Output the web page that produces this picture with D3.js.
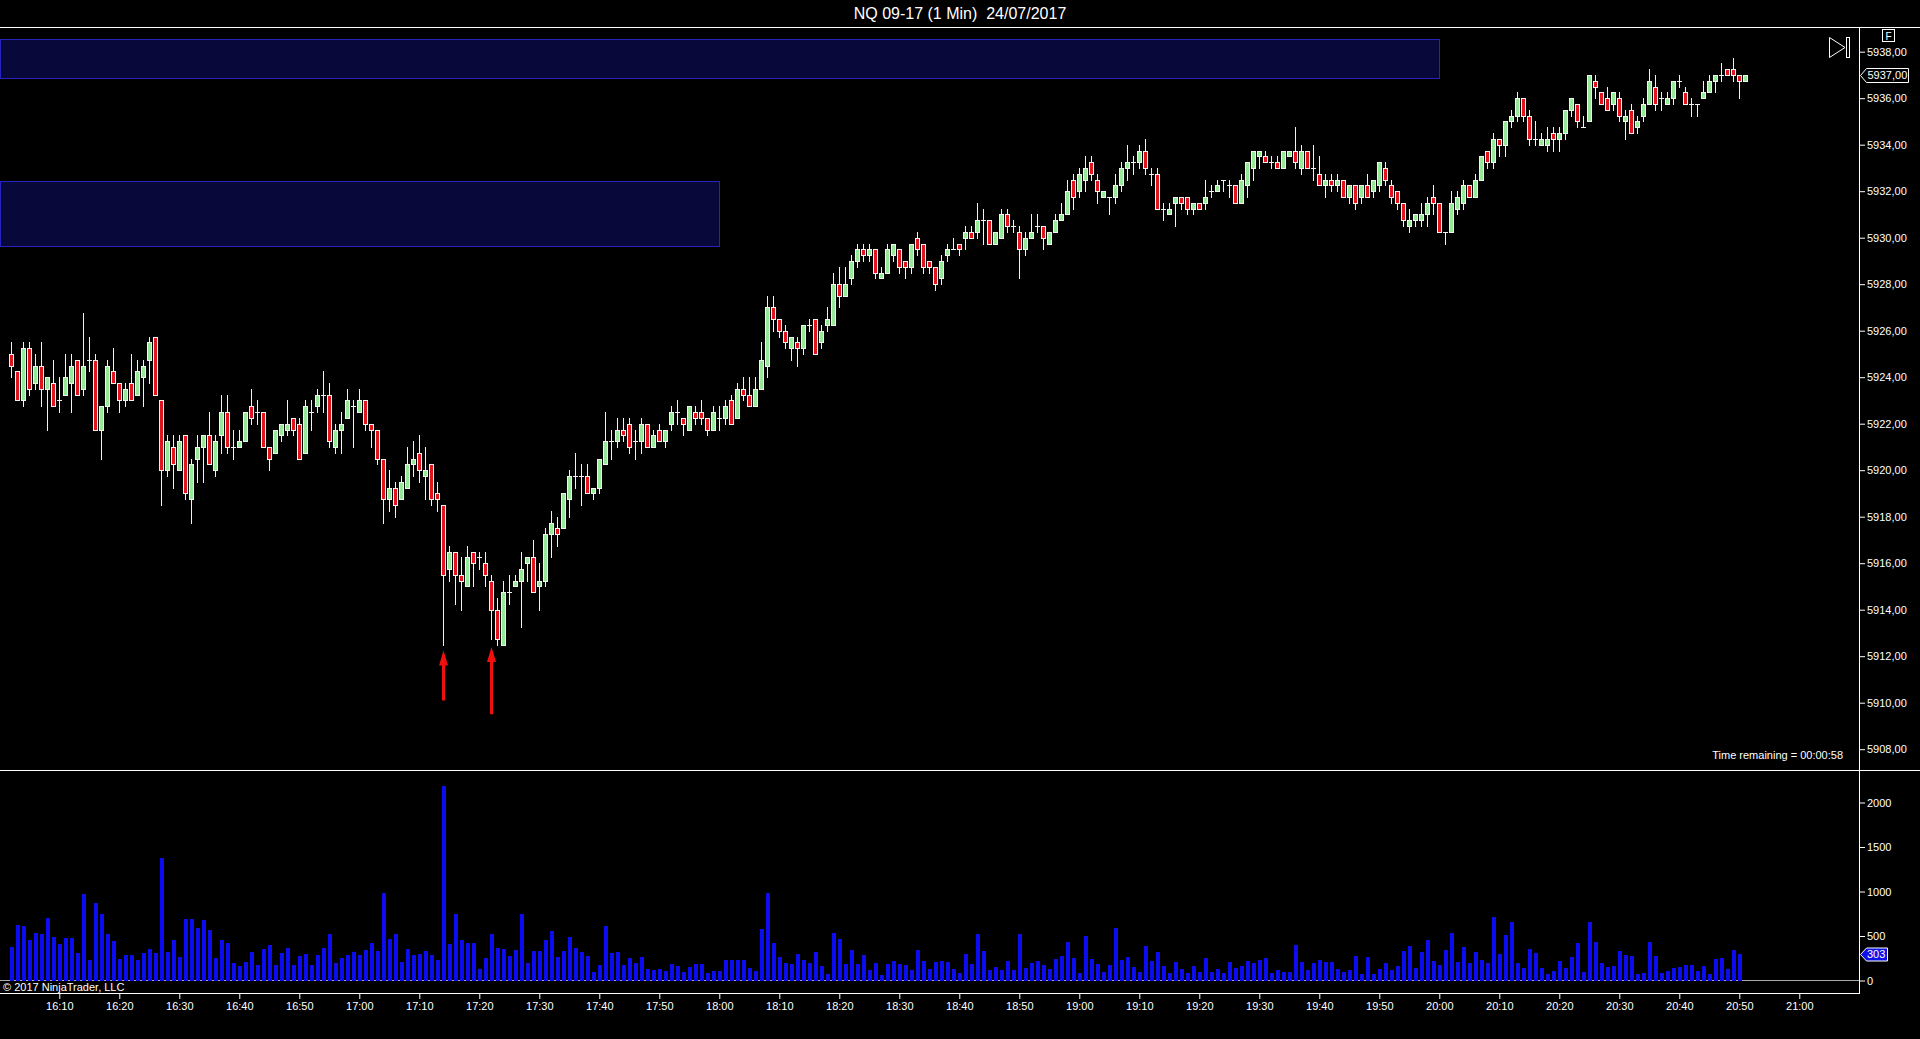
<!DOCTYPE html>
<html>
<head>
<meta charset="utf-8">
<title>NQ 09-17 (1 Min) 24/07/2017</title>
<script src="https://cdn.jsdelivr.net/npm/d3@7"></script>
<style>
  html, body { margin: 0; padding: 0; background: #000; overflow: hidden; }
  svg { display: block; font-family: "Liberation Sans", Arial, sans-serif; }
</style>
</head>
<body>
<div id="chart"></div>
<script>
// 1 minute bars, first bar closes 16:02
var firstBar = "16:02";

var opens = [
  5925.0, 5924.25, 5923.0, 5925.25, 5923.75, 5924.5, 5923.5, 5923.75, 5923.0, 5923.25,
  5923.75, 5924.75, 5923.5, 5924.75, 5924.75, 5921.75, 5922.75, 5924.25, 5923.75, 5923.0,
  5923.75, 5923.25, 5924.0, 5924.75, 5925.75, 5923.0, 5920.0, 5921.0, 5920.0, 5921.5,
  5918.75, 5920.5, 5921.0, 5921.5, 5920.0, 5921.5, 5922.5, 5921.0, 5921.0, 5921.25,
  5922.75, 5922.5, 5922.5, 5921.0, 5920.75, 5921.5, 5921.75, 5922.25, 5922.0, 5920.75,
  5922.5, 5922.75, 5923.25, 5923.25, 5921.0, 5921.75, 5922.25, 5922.75, 5922.5, 5923.0,
  5922.0, 5921.75, 5920.5, 5918.75, 5919.25, 5918.75, 5919.25, 5920.25, 5920.75, 5919.75,
  5920.25, 5919.0, 5918.5, 5915.75, 5916.5, 5915.5, 5915.0, 5916.5, 5916.25, 5916.0,
  5915.25, 5914.0, 5912.5, 5914.75, 5915.0, 5915.25, 5916.0, 5916.25, 5915.0, 5915.25,
  5917.25, 5917.5, 5917.5, 5918.75, 5919.75, 5919.75, 5919.75, 5919.0, 5919.25, 5920.25,
  5921.25, 5921.25, 5921.75, 5922.0, 5921.25, 5921.25, 5922.0, 5921.0, 5921.75, 5921.25,
  5922.0, 5922.5, 5922.25, 5921.75, 5922.5, 5922.5, 5922.25, 5921.75, 5922.25, 5922.25,
  5923.0, 5922.25, 5923.5, 5923.25, 5922.75, 5923.5, 5924.5, 5927.0, 5926.5, 5926.0,
  5925.25, 5925.5, 5925.25, 5926.25, 5926.5, 5925.5, 5926.25, 5926.25, 5928.0, 5927.5,
  5928.25, 5929.0, 5929.5, 5929.25, 5929.5, 5928.25, 5928.5, 5929.25, 5929.5, 5929.0,
  5928.75, 5930.0, 5929.75, 5929.0, 5928.75, 5928.25, 5929.25, 5929.5, 5929.75, 5930.0,
  5930.25, 5930.25, 5930.75, 5930.75, 5929.75, 5930.0, 5931.0, 5930.5, 5930.25, 5929.5,
  5930.0, 5930.5, 5930.5, 5929.75, 5930.25, 5930.75, 5931.0, 5932.5, 5932.0, 5932.5,
  5933.25, 5932.5, 5931.75, 5931.75, 5931.75, 5932.25, 5933.0, 5933.25, 5933.25, 5933.75,
  5932.75, 5932.75, 5931.25, 5931.0, 5931.5, 5931.75, 5931.75, 5931.25, 5931.5, 5931.5,
  5932.0, 5932.0, 5932.5, 5932.25, 5932.25, 5931.5, 5932.25, 5933.0, 5933.5, 5933.5,
  5933.25, 5933.25, 5933.0, 5933.5, 5933.75, 5933.0, 5933.75, 5933.0, 5932.75, 5932.25,
  5932.5, 5932.25, 5932.5, 5931.75, 5932.25, 5931.75, 5932.25, 5932.0, 5932.25, 5933.0,
  5932.25, 5932.0, 5931.5, 5930.5, 5930.75, 5930.75, 5931.0, 5931.75, 5931.5, 5930.25,
  5930.25, 5931.25, 5931.5, 5932.25, 5931.75, 5932.5, 5933.75, 5933.25, 5934.25, 5934.0,
  5935.0, 5935.25, 5936.0, 5935.25, 5934.25, 5934.0, 5934.0, 5934.5, 5934.25, 5934.5,
  5935.5, 5935.75, 5934.75, 5935.0, 5936.75, 5936.25, 5936.0, 5935.75, 5936.0, 5935.0,
  5935.5, 5934.75, 5935.25, 5935.75, 5936.5, 5936.0, 5935.75, 5936.0, 5936.75, 5936.25,
  5935.75, 5935.75, 5936.0, 5936.25, 5936.75, 5937.0, 5937.25, 5937.25, 5937.0, 5936.75
];

var highs = [
  5925.5, 5924.25, 5925.5, 5925.5, 5925.0, 5925.5, 5924.0, 5924.75, 5924.0, 5925.0,
  5925.0, 5924.75, 5926.75, 5925.75, 5925.0, 5922.75, 5924.75, 5925.25, 5923.75, 5923.75,
  5925.0, 5924.75, 5924.75, 5925.75, 5925.75, 5923.0, 5921.5, 5921.5, 5921.5, 5921.5,
  5920.5, 5921.5, 5921.5, 5922.5, 5921.5, 5923.25, 5923.25, 5921.75, 5921.75, 5922.5,
  5923.5, 5923.0, 5922.5, 5921.0, 5921.75, 5922.0, 5923.0, 5922.25, 5922.25, 5923.0,
  5923.0, 5923.5, 5924.25, 5923.75, 5922.0, 5922.5, 5923.5, 5923.0, 5923.5, 5923.0,
  5922.0, 5921.75, 5920.5, 5920.0, 5919.5, 5919.75, 5921.0, 5921.25, 5921.5, 5921.0,
  5920.25, 5919.5, 5918.5, 5916.75, 5916.5, 5916.25, 5916.75, 5916.5, 5916.5, 5916.5,
  5915.5, 5914.5, 5915.25, 5915.5, 5915.5, 5916.5, 5916.25, 5917.0, 5916.0, 5917.5,
  5918.25, 5918.0, 5919.0, 5920.0, 5920.75, 5920.25, 5920.25, 5919.25, 5920.5, 5922.5,
  5921.75, 5922.25, 5922.25, 5922.25, 5921.75, 5922.25, 5922.0, 5921.75, 5922.0, 5921.75,
  5922.75, 5923.0, 5922.25, 5922.75, 5922.75, 5923.0, 5922.25, 5922.75, 5922.75, 5923.0,
  5923.25, 5923.75, 5924.0, 5924.0, 5924.0, 5925.5, 5927.5, 5927.5, 5926.5, 5926.25,
  5925.75, 5925.75, 5926.25, 5926.5, 5926.5, 5926.25, 5927.0, 5928.5, 5928.75, 5928.75,
  5929.25, 5929.75, 5929.75, 5929.75, 5929.5, 5928.75, 5929.75, 5929.75, 5929.5, 5929.0,
  5929.75, 5930.25, 5929.75, 5929.0, 5928.75, 5929.25, 5929.75, 5930.0, 5929.75, 5930.5,
  5930.5, 5931.5, 5931.25, 5930.75, 5930.25, 5931.25, 5931.25, 5930.75, 5930.5, 5930.25,
  5931.0, 5931.0, 5930.5, 5930.25, 5931.0, 5931.5, 5932.5, 5932.75, 5933.0, 5933.5,
  5933.5, 5932.75, 5932.0, 5931.75, 5932.75, 5933.25, 5934.0, 5933.5, 5934.0, 5934.25,
  5933.0, 5933.0, 5931.5, 5931.5, 5931.75, 5931.75, 5931.75, 5931.5, 5931.5, 5932.5,
  5932.25, 5932.5, 5932.5, 5932.5, 5932.25, 5932.75, 5933.25, 5933.75, 5933.75, 5933.75,
  5933.5, 5933.5, 5933.75, 5933.75, 5934.75, 5934.0, 5933.75, 5934.0, 5933.5, 5932.75,
  5932.75, 5932.75, 5932.5, 5932.25, 5932.25, 5932.25, 5932.75, 5932.5, 5933.25, 5933.25,
  5932.5, 5932.0, 5931.5, 5931.25, 5931.0, 5931.5, 5931.75, 5932.25, 5931.5, 5930.25,
  5932.0, 5932.0, 5932.5, 5932.25, 5932.75, 5933.5, 5933.75, 5934.5, 5934.25, 5935.0,
  5935.5, 5936.25, 5936.0, 5935.5, 5935.0, 5934.5, 5934.75, 5934.75, 5934.75, 5935.5,
  5936.0, 5935.75, 5935.25, 5937.0, 5937.0, 5936.25, 5936.5, 5936.25, 5936.25, 5935.5,
  5935.75, 5935.25, 5936.0, 5937.25, 5937.0, 5936.25, 5936.25, 5936.75, 5937.0, 5936.5,
  5936.0, 5935.75, 5936.75, 5937.0, 5937.0, 5937.5, 5937.25, 5937.75, 5937.0, 5937.0
];

var lows = [
  5924.0, 5923.0, 5922.75, 5923.25, 5923.5, 5922.75, 5921.75, 5922.75, 5922.5, 5923.25,
  5922.5, 5923.25, 5923.25, 5924.25, 5921.75, 5920.5, 5922.5, 5923.75, 5922.5, 5922.75,
  5923.0, 5923.25, 5922.75, 5923.75, 5923.25, 5918.5, 5919.75, 5919.25, 5920.0, 5918.75,
  5917.75, 5919.5, 5919.5, 5920.25, 5919.75, 5920.75, 5920.75, 5920.5, 5921.0, 5921.25,
  5922.0, 5922.0, 5921.0, 5920.0, 5920.75, 5921.25, 5921.5, 5921.5, 5920.5, 5920.75,
  5921.75, 5922.5, 5922.5, 5921.0, 5920.75, 5920.75, 5922.25, 5921.0, 5922.5, 5921.75,
  5921.0, 5920.25, 5917.75, 5918.25, 5918.0, 5918.75, 5919.25, 5919.75, 5919.5, 5918.75,
  5918.5, 5918.25, 5912.5, 5915.25, 5914.25, 5914.0, 5915.0, 5915.0, 5915.75, 5915.0,
  5912.75, 5912.5, 5912.5, 5914.25, 5915.0, 5913.25, 5915.25, 5914.75, 5914.0, 5915.0,
  5916.25, 5916.75, 5917.5, 5918.0, 5919.25, 5918.5, 5919.0, 5918.75, 5919.0, 5920.25,
  5920.5, 5921.0, 5921.25, 5920.75, 5920.5, 5920.75, 5921.0, 5921.0, 5921.25, 5921.0,
  5921.75, 5922.0, 5921.5, 5921.75, 5922.0, 5922.0, 5921.5, 5921.75, 5921.75, 5922.0,
  5922.0, 5922.25, 5923.0, 5922.75, 5922.75, 5923.5, 5924.0, 5926.0, 5925.75, 5925.25,
  5924.75, 5924.5, 5925.0, 5926.0, 5925.0, 5925.25, 5926.0, 5926.25, 5927.0, 5927.5,
  5928.0, 5928.75, 5929.0, 5929.0, 5928.25, 5928.25, 5928.5, 5929.0, 5928.5, 5928.25,
  5928.5, 5929.25, 5928.5, 5928.5, 5927.75, 5928.0, 5929.0, 5929.5, 5929.25, 5929.5,
  5930.0, 5930.0, 5929.75, 5929.75, 5929.75, 5930.0, 5930.25, 5930.25, 5928.25, 5929.25,
  5930.0, 5930.25, 5929.5, 5929.75, 5930.25, 5930.75, 5931.0, 5931.25, 5931.75, 5932.0,
  5932.5, 5931.5, 5931.75, 5931.0, 5931.5, 5932.0, 5932.5, 5932.75, 5933.0, 5932.75,
  5932.25, 5931.25, 5930.75, 5931.0, 5930.5, 5931.25, 5931.0, 5931.0, 5931.25, 5931.25,
  5931.75, 5932.0, 5932.0, 5931.75, 5931.5, 5931.5, 5931.75, 5932.5, 5933.0, 5933.25,
  5933.0, 5933.0, 5933.0, 5933.5, 5933.0, 5932.75, 5933.0, 5932.5, 5932.25, 5931.75,
  5932.0, 5932.0, 5931.75, 5931.5, 5931.25, 5931.5, 5931.75, 5931.75, 5932.0, 5932.25,
  5931.5, 5931.25, 5930.5, 5930.25, 5930.5, 5930.5, 5930.5, 5931.0, 5930.25, 5929.75,
  5930.25, 5931.0, 5931.25, 5931.75, 5931.75, 5932.5, 5933.0, 5933.0, 5933.5, 5933.5,
  5934.75, 5935.0, 5935.0, 5934.0, 5934.0, 5934.0, 5933.75, 5933.75, 5933.75, 5934.25,
  5935.25, 5934.75, 5934.75, 5935.0, 5936.0, 5935.75, 5935.5, 5935.5, 5935.0, 5934.25,
  5934.5, 5934.5, 5935.0, 5935.75, 5935.5, 5935.5, 5935.75, 5935.75, 5936.5, 5935.75,
  5935.25, 5935.25, 5936.0, 5936.25, 5936.25, 5936.75, 5937.0, 5936.75, 5936.0, 5936.75
];

var closes = [
  5924.5, 5923.0, 5925.25, 5923.5, 5924.5, 5923.5, 5924.0, 5922.75, 5923.0, 5924.0,
  5924.5, 5923.25, 5924.5, 5924.75, 5921.75, 5922.75, 5924.5, 5923.75, 5923.0, 5923.5,
  5923.0, 5924.25, 5924.5, 5925.5, 5923.25, 5920.0, 5921.25, 5920.25, 5921.25, 5919.0,
  5920.25, 5921.0, 5921.5, 5920.25, 5921.25, 5922.5, 5921.0, 5921.0, 5921.25, 5922.5,
  5922.25, 5922.5, 5921.0, 5920.5, 5921.75, 5922.0, 5922.0, 5921.75, 5920.5, 5922.75,
  5922.5, 5923.25, 5923.25, 5921.25, 5921.75, 5922.0, 5923.0, 5922.75, 5923.0, 5922.0,
  5921.75, 5920.5, 5918.75, 5919.25, 5918.5, 5919.5, 5920.25, 5920.5, 5920.0, 5920.0,
  5918.75, 5918.75, 5915.5, 5916.5, 5915.5, 5915.25, 5916.25, 5916.0, 5916.25, 5915.5,
  5914.0, 5912.75, 5914.75, 5914.75, 5915.25, 5915.75, 5916.25, 5914.75, 5915.25, 5917.25,
  5917.75, 5917.25, 5919.0, 5919.75, 5919.75, 5919.75, 5919.0, 5919.25, 5920.5, 5921.25,
  5921.25, 5921.75, 5921.5, 5921.0, 5921.25, 5922.0, 5921.0, 5921.5, 5921.25, 5921.75,
  5922.5, 5922.5, 5922.0, 5922.75, 5922.25, 5922.25, 5921.75, 5922.5, 5922.25, 5922.75,
  5922.0, 5923.5, 5923.25, 5922.75, 5923.5, 5924.75, 5927.0, 5926.5, 5926.0, 5925.5,
  5925.75, 5925.25, 5926.25, 5926.25, 5925.0, 5926.0, 5926.5, 5928.0, 5927.5, 5928.0,
  5929.0, 5929.5, 5929.25, 5929.5, 5928.5, 5928.5, 5929.5, 5929.75, 5928.75, 5928.75,
  5929.75, 5929.5, 5928.75, 5928.75, 5928.0, 5929.0, 5929.5, 5929.5, 5929.5, 5930.25,
  5930.0, 5930.75, 5930.75, 5929.75, 5930.25, 5931.0, 5930.5, 5930.5, 5929.5, 5930.0,
  5930.25, 5930.5, 5930.0, 5930.25, 5930.75, 5931.0, 5932.0, 5931.75, 5932.75, 5933.0,
  5932.75, 5932.0, 5932.0, 5931.75, 5932.25, 5933.0, 5933.25, 5933.25, 5933.75, 5933.0,
  5932.75, 5931.25, 5931.25, 5931.25, 5931.75, 5931.5, 5931.25, 5931.5, 5931.25, 5931.75,
  5932.0, 5932.25, 5932.5, 5932.25, 5931.5, 5932.5, 5933.25, 5933.75, 5933.75, 5933.25,
  5933.25, 5933.0, 5933.75, 5933.75, 5933.25, 5933.75, 5933.0, 5933.0, 5932.25, 5932.5,
  5932.25, 5932.5, 5931.75, 5932.25, 5931.5, 5932.25, 5931.75, 5932.5, 5933.25, 5932.5,
  5931.75, 5931.5, 5930.75, 5930.75, 5931.0, 5931.0, 5931.5, 5931.5, 5930.25, 5930.25,
  5931.5, 5931.75, 5932.25, 5931.75, 5932.5, 5933.5, 5933.25, 5934.25, 5934.0, 5935.0,
  5935.25, 5936.0, 5935.25, 5934.25, 5934.25, 5934.25, 5934.25, 5934.25, 5934.5, 5935.5,
  5936.0, 5935.0, 5934.75, 5937.0, 5936.5, 5935.75, 5935.5, 5936.25, 5935.25, 5935.25,
  5934.5, 5935.0, 5935.75, 5936.75, 5935.75, 5936.0, 5936.0, 5936.75, 5936.75, 5935.75,
  5935.75, 5935.75, 5936.25, 5936.75, 5937.0, 5937.0, 5937.0, 5937.0, 5936.75, 5937.0
];

// volume panel: one bar per minute, it stops one bar before the price panel
var volumes = [
  375, 622, 614, 457, 532, 524, 704, 487, 412, 479,
  472, 307, 970, 225, 869, 745, 521, 442, 240, 288,
  288, 232, 311, 352, 307, 1371, 322, 457, 262, 693,
  693, 592, 682, 565, 255, 457, 423, 202, 165, 206,
  322, 176, 356, 401, 176, 307, 367, 172, 277, 300,
  172, 285, 363, 524, 202, 251, 281, 322, 288, 345,
  423, 330, 985, 464, 524, 206, 356, 288, 300, 333,
  288, 228, 2180, 412, 742, 457, 416, 419, 127, 255,
  524, 363, 356, 277, 341, 749, 195, 337, 337, 457,
  554, 262, 333, 494, 363, 315, 270, 97, 176, 607,
  307, 315, 176, 255, 195, 266, 127, 120, 127, 105,
  187, 165, 97, 157, 187, 187, 86, 109, 109, 225,
  232, 225, 232, 142, 112, 584, 985, 423, 266, 195,
  191, 303, 232, 202, 318, 165, 75, 536, 468, 187,
  345, 191, 285, 120, 195, 67, 187, 221, 187,
  176, 120, 345, 221, 127, 206, 221, 206, 127, 82,
  300, 187, 517, 333, 120, 154, 120, 221, 120, 528,
  139, 202, 221, 176, 127, 243, 277, 434, 255, 82,
  502, 243, 187, 101, 176, 592, 232, 266, 150, 97,
  386, 221, 322, 165, 86, 206, 127, 86, 165, 97,
  255, 97, 127, 82, 206, 139, 165, 221, 195, 232,
  255, 86, 120, 97, 97, 404, 210, 120, 195, 232,
  210, 210, 127, 97, 120, 277, 75, 266, 75, 127,
  202, 120, 165, 333, 389, 142, 322, 457, 221, 176,
  345, 539, 210, 378, 195, 322, 232, 195, 708, 300,
  506, 659, 202, 142, 356, 311, 142, 75, 109, 221,
  142, 266, 416, 97, 652, 434, 202, 154, 165, 326,
  288, 277, 75, 82, 438, 277, 86, 109, 142, 154,
  176, 176, 109, 165, 75, 243, 251, 131, 345, 303
];

// price ticks and volume ticks
var priceTicks = d3.range(5908, 5938.01, 2);
var volumeTicks = [0, 500, 1000, 1500, 2000];

// supply / demand zones (price band, from chart start to end time)
var zoneTop = [5938.55, 5932.45];
var zoneBottom = [5936.85, 5929.65];
var zoneEnd = ["20:00", "18:00"];

// red arrows under the two lows (bar number, tip price, tail price)
var arrowBar = [73, 81];
var arrowTip = [5912.25, 5912.4];
var arrowTail = [5910.1, 5909.5];

var title = "NQ 09-17 (1 Min)  24/07/2017";
var timeRemaining = "Time remaining = 00:00:58";

var w = 1920;
var h = 1039;

var upColor = "#98e698";
var downColor = "#e0141c";

function parseTime(s) {
    var p = s.split(":");
    return new Date(Date.UTC(2017, 6, 24, +p[0], +p[1]));
}

var t0 = parseTime(firstBar);
var bars = opens.map(function (o, i) {
    return {
        t: d3.utcMinute.offset(t0, i),
        o: o, h: highs[i], l: lows[i], c: closes[i], v: volumes[i]
    };
});
var volBars = bars.filter(function (d) { return d.v !== undefined; });

var x = d3.scaleUtc()
    .domain([parseTime("16:00"), parseTime("21:00")])
    .range([-0.7, 1799.3]);

var y = d3.scaleLinear()
    .domain([5908, 5938])
    .range([749.2, 51.7]);

var yv = d3.scaleLinear()
    .domain([0, 2000])
    .range([980.5, 802.5]);

var axisX = 1859;

function cx(d) { return Math.round(x(d.t)); }
function fmtPrice(d) { return d3.format(".2f")(d).replace(".", ","); }

var svg = d3.select("#chart")
    .append("svg")
    .attr("width", w)
    .attr("height", h)
    .style("background", "#000");

svg.append("defs").append("clipPath")
    .attr("id", "clipPrice")
    .append("rect")
    .attr("x", 0).attr("y", 28)
    .attr("width", axisX).attr("height", 742);

svg.append("defs").append("clipPath")
    .attr("id", "clipVol")
    .append("rect")
    .attr("x", 0).attr("y", 771)
    .attr("width", axisX).attr("height", 222);

// title
svg.append("text")
    .attr("x", 960)
    .attr("y", 19)
    .attr("text-anchor", "middle")
    .attr("fill", "#fff")
    .style("font-size", "16px")
    .style("white-space", "pre")
    .text(title);

var gp = svg.append("g").attr("clip-path", "url(#clipPrice)");

// zones
gp.selectAll(".zone")
    .data(zoneTop)
    .enter()
    .append("rect")
    .attr("class", "zone")
    .attr("x", 0.5)
    .attr("y", function (d) { return Math.round(y(d)) + 0.5; })
    .attr("width", function (d, i) { return Math.round(x(parseTime(zoneEnd[i]))); })
    .attr("height", function (d, i) { return Math.round(y(zoneBottom[i])) - Math.round(y(d)); })
    .attr("fill", "#08083a")
    .attr("stroke", "#2424bc");

// candles
var candle = gp.selectAll(".candle")
    .data(bars)
    .enter()
    .append("g")
    .attr("class", "candle");

candle.append("line")
    .attr("x1", function (d) { return cx(d) + 0.5; })
    .attr("x2", function (d) { return cx(d) + 0.5; })
    .attr("y1", function (d) { return Math.round(y(d.h)); })
    .attr("y2", function (d) { return Math.round(y(d.l)) + 1; })
    .attr("stroke", "#f2f2f2");

candle.filter(function (d) { return d.o !== d.c; })
    .append("rect")
    .attr("x", function (d) { return cx(d) - 1.5; })
    .attr("width", 4)
    .attr("y", function (d) { return Math.round(y(Math.max(d.o, d.c))) + 0.5; })
    .attr("height", function (d) {
        return Math.max(1, Math.round(y(Math.min(d.o, d.c))) - Math.round(y(Math.max(d.o, d.c))));
    })
    .attr("fill", function (d) { return d.c > d.o ? upColor : downColor; })
    .attr("stroke", "#f2f2f2");

candle.filter(function (d) { return d.o === d.c; })
    .append("line")
    .attr("x1", function (d) { return cx(d) - 2; })
    .attr("x2", function (d) { return cx(d) + 3; })
    .attr("y1", function (d) { return Math.round(y(d.o)) + 0.5; })
    .attr("y2", function (d) { return Math.round(y(d.o)) + 0.5; })
    .attr("stroke", "#f2f2f2");

// arrows
gp.selectAll(".arrow")
    .data(arrowBar)
    .enter()
    .append("path")
    .attr("class", "arrow")
    .attr("fill", "#f01010")
    .attr("d", function (d, i) {
        var ax = cx(bars[d - 1]) + 0.5;
        var yt = y(arrowTip[i]);
        var yb = y(arrowTail[i]);
        return "M" + ax + "," + yt +
            "L" + (ax + 4.5) + "," + (yt + 15) +
            "L" + (ax + 1.5) + "," + (yt + 15) +
            "L" + (ax + 1.5) + "," + yb +
            "L" + (ax - 1.5) + "," + yb +
            "L" + (ax - 1.5) + "," + (yt + 15) +
            "L" + (ax - 4.5) + "," + (yt + 15) + "Z";
    });

svg.append("text")
    .attr("x", 1843)
    .attr("y", 759)
    .attr("text-anchor", "end")
    .attr("fill", "#fff")
    .style("font-size", "11px")
    .text(timeRemaining);

// volume
var gv = svg.append("g").attr("clip-path", "url(#clipVol)");

gv.append("line")
    .attr("x1", 0).attr("x2", axisX)
    .attr("y1", yv(0)).attr("y2", yv(0))
    .attr("stroke", "#a8a8a8");

gv.selectAll(".vol")
    .data(volBars)
    .enter()
    .append("rect")
    .attr("class", "vol")
    .attr("x", function (d) { return cx(d) - 1; })
    .attr("width", 4)
    .attr("y", function (d) { return Math.round(yv(d.v)); })
    .attr("height", function (d) { return Math.round(yv(0)) - Math.round(yv(d.v)); })
    .attr("fill", "#0c0cf0");

svg.append("text")
    .attr("x", 3)
    .attr("y", 991)
    .attr("fill", "#fff")
    .style("font-size", "11px")
    .text("\u00a9 2017 NinjaTrader, LLC");

// frame lines
var frame = svg.append("g").attr("stroke", "#fff");
frame.append("line").attr("x1", 0).attr("x2", w).attr("y1", 27.5).attr("y2", 27.5);
frame.append("line").attr("x1", 0).attr("x2", w).attr("y1", 770.5).attr("y2", 770.5);
frame.append("line").attr("x1", 0).attr("x2", axisX).attr("y1", 993.5).attr("y2", 993.5);
frame.append("line").attr("x1", axisX + 0.5).attr("x2", axisX + 0.5).attr("y1", 27).attr("y2", 994);

// axes
function styleAxis(g) {
    g.select(".domain").remove();
    g.selectAll("line").attr("stroke", "#fff");
    g.selectAll("text").attr("fill", "#fff").style("font-size", "11px")
        .style("font-family", "'Liberation Sans', Arial, sans-serif");
}

svg.append("g")
    .attr("transform", "translate(" + axisX + ",0)")
    .call(d3.axisRight(y).tickValues(priceTicks).tickSize(6).tickPadding(2).tickFormat(fmtPrice))
    .call(styleAxis);

svg.append("g")
    .attr("transform", "translate(" + axisX + ",0)")
    .call(d3.axisRight(yv).tickValues(volumeTicks).tickSize(6).tickPadding(2).tickFormat(d3.format("d")))
    .call(styleAxis);

svg.append("g")
    .attr("transform", "translate(0,993)")
    .call(d3.axisBottom(x)
        .tickValues(d3.utcMinute.every(10).range(parseTime("16:10"), parseTime("21:01")))
        .tickSize(6).tickPadding(3)
        .tickFormat(d3.utcFormat("%H:%M")))
    .call(styleAxis);

// last price marker
var last = bars[bars.length - 1];
var mp = Math.round(y(last.c)) + 0.5;
svg.append("path")
    .attr("d", "M1860.5," + mp + "L1866.5," + (mp - 7) + "H1908.5V" + (mp + 7) + "H1866.5Z")
    .attr("fill", "#000")
    .attr("stroke", "#fff");
svg.append("text")
    .attr("x", 1867.5).attr("y", mp).attr("dy", "0.35em")
    .attr("fill", "#fff").style("font-size", "11px")
    .text(fmtPrice(last.c));

// last volume marker
var lastVol = volBars[volBars.length - 1].v;
var mv = Math.round(yv(lastVol)) + 0.5;
svg.append("path")
    .attr("d", "M1860.5," + mv + "L1866.5," + (mv - 6.5) + "H1887.5V" + (mv + 6.5) + "H1866.5Z")
    .attr("fill", "#1010e8")
    .attr("stroke", "#fff");
svg.append("text")
    .attr("x", 1867).attr("y", mv).attr("dy", "0.35em")
    .attr("fill", "#fff").style("font-size", "11px")
    .text(lastVol);

// top right buttons
svg.append("rect")
    .attr("x", 1882.5).attr("y", 29.5).attr("width", 12).attr("height", 12)
    .attr("fill", "none").attr("stroke", "#fff");
svg.append("text")
    .attr("x", 1888.5).attr("y", 39.5).attr("text-anchor", "middle")
    .attr("fill", "#fff").style("font-size", "10px").text("F");
svg.append("path")
    .attr("d", "M1829.5,37.5L1845,47.5L1829.5,57.5Z")
    .attr("fill", "none").attr("stroke", "#fff");
svg.append("rect")
    .attr("x", 1846.5).attr("y", 37.5).attr("width", 3).attr("height", 20)
    .attr("fill", "none").attr("stroke", "#fff");
</script>
</body>
</html>
